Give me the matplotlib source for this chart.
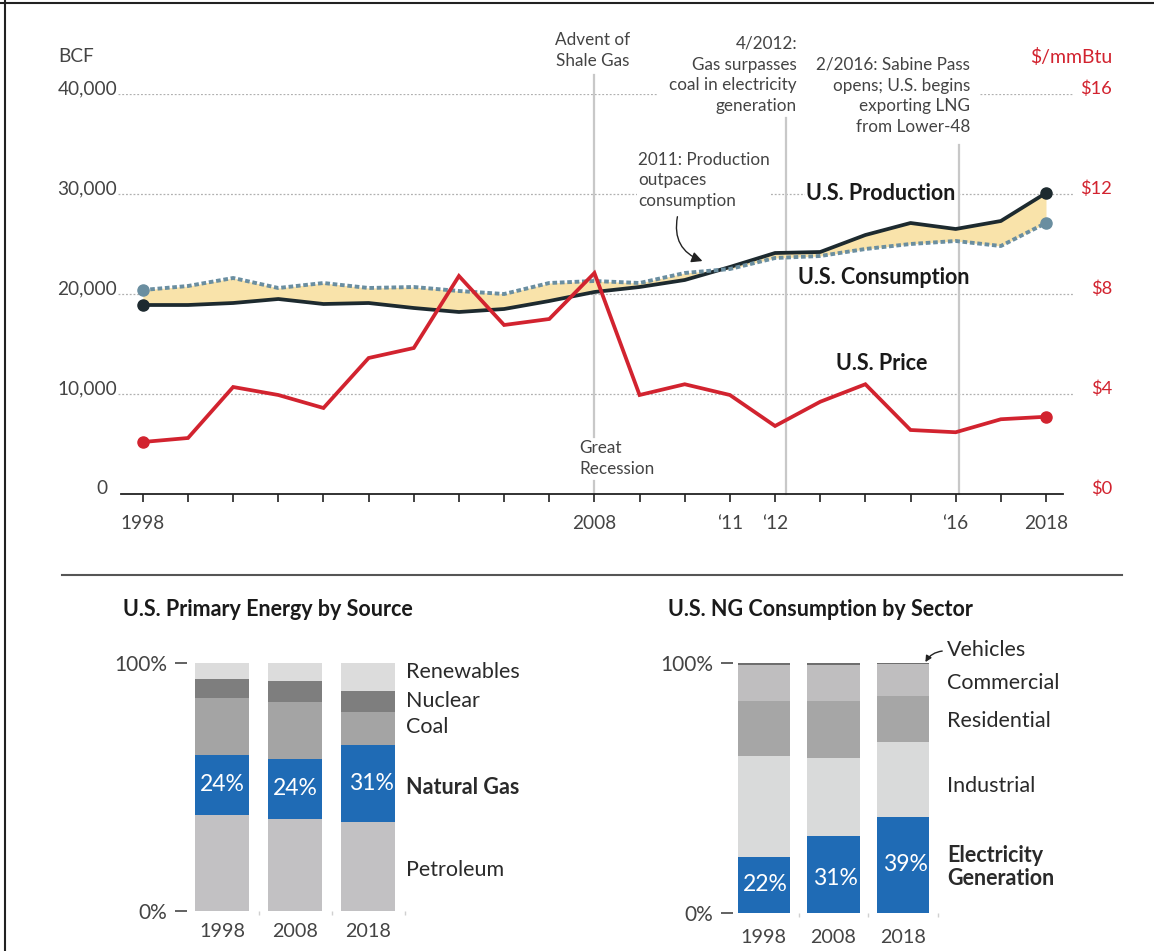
import matplotlib
matplotlib.use('Agg')
import matplotlib.pyplot as plt
from matplotlib.lines import Line2D

plt.rcParams['font.family'] = ['Lato', 'DejaVu Sans']

# dados do painel superior
anos = [1998, 1999, 2000, 2001, 2002, 2003, 2004, 2005, 2006, 2007, 2008,
        2009, 2010, 2011, 2012, 2013, 2014, 2015, 2016, 2017, 2018]
producao = [18900, 18900, 19100, 19500, 19000, 19100, 18600, 18200, 18500, 19300, 20200,
            20700, 21400, 22700, 24100, 24200, 25900, 27100, 26500, 27300, 30100]
consumo = [20400, 20800, 21600, 20600, 21100, 20600, 20700, 20300, 20000, 21100, 21300,
           21100, 22100, 22500, 23600, 23800, 24500, 25000, 25300, 24800, 27100]
preco = [2.08, 2.24, 4.28, 3.96, 3.44, 5.44, 5.84, 8.72, 6.76, 7.00, 8.84,
         3.96, 4.39, 3.96, 2.72, 3.69, 4.39, 2.56, 2.47, 2.99, 3.09]
anos_rotulo = [1998, 2008, 2011, 2012, 2016, 2018]
textos_rotulo = ['1998', '2008', '\u201811', '\u201812', '\u201816', '2018']
bcf_ticks = [0, 10000, 20000, 30000, 40000]
bcf_labels = ['0', '10,000', '20,000', '30,000', '40,000']
preco_labels = ['$0', '$4', '$8', '$12', '$16']

# dados dos paineis inferiores (fração do total)
barras_anos = ['1998', '2008', '2018']
fontes = ['Petroleum', 'Natural Gas', 'Coal', 'Nuclear', 'Renewables']
fontes_vals = {
    'Petroleum':   [0.387, 0.370, 0.360],
    'Natural Gas': [0.243, 0.245, 0.310],
    'Coal':        [0.230, 0.230, 0.132],
    'Nuclear':     [0.078, 0.085, 0.085],
    'Renewables':  [0.062, 0.070, 0.113],
}
fontes_cores = ['#c2c1c3', '#1f6bb5', '#a4a4a4', '#7e7e7e', '#dcdcdc']
gas_pct = ['24%', '24%', '31%']

setores = ['Electricity', 'Industrial', 'Residential', 'Commercial', 'Vehicles']
setores_vals = {
    'Electricity': [0.225, 0.309, 0.385],
    'Industrial':  [0.402, 0.312, 0.301],
    'Residential': [0.222, 0.227, 0.183],
    'Commercial':  [0.146, 0.146, 0.127],
    'Vehicles':    [0.005, 0.006, 0.004],
}
setores_cores = ['#1f6bb5', '#d9dada', '#a6a6a6', '#bfbebf', '#6e6e6e']
elec_pct = ['22%', '31%', '39%']

W, H = 1154, 951
fig = plt.figure(figsize=(W / 100, H / 100), dpi=100)


def px(x, y):
    return x / W, 1 - y / H


CINZA = '#444444'
VERM = '#d2232f'
TK = 13.7  # tamanho dos rótulos de eixo

# ---------------- painel superior ----------------
ax = fig.add_axes([118 / W, 1 - 494 / H, (1074 - 118) / W, 400 / H])
ax.set_xlim(1997.45, 2018.62)
ax.set_ylim(0, 40000)
for s in ['top', 'left', 'right']:
    ax.spines[s].set_visible(False)
ax.spines['bottom'].set_bounds(1997.51, 2018.38)
ax.spines['bottom'].set_color('#222222')
ax.spines['bottom'].set_linewidth(1.3)
ax.set_yticks([])
ax.set_xticks(anos)
ax.set_xticklabels([textos_rotulo[anos_rotulo.index(a)] if a in anos_rotulo else '' for a in anos])
ax.tick_params(axis='x', length=6, width=1.2, color='#222222', labelsize=TK,
               labelcolor=CINZA, pad=9)

# grade pontilhada
for v in bcf_ticks[1:4]:
    ax.axhline(v, color='#b0b0b0', lw=0.9, ls=(0, (1.5, 1.5)), zorder=0)
ax.plot([1997.45, 2009.38], [40000, 40000], color='#b0b0b0', lw=0.9, ls=(0, (1.5, 1.5)), zorder=0)
ax.plot([2016.54, 2018.62], [40000, 40000], color='#b0b0b0', lw=0.9, ls=(0, (1.5, 1.5)), zorder=0)

tr = ax.get_yaxis_transform()
for v, lab in zip(bcf_ticks, bcf_labels):
    xx = -0.011 if v == 0 else -0.001
    ax.text(xx, v, lab, transform=tr, ha='right', va='baseline', fontsize=TK, color=CINZA)
    ax.text(1.0397, v, preco_labels[bcf_ticks.index(v)], transform=tr, ha='right',
            va='baseline', fontsize=13.2, color=VERM)
fig.text(*px(58, 57), 'BCF', ha='left', va='center', fontsize=TK, color=CINZA)
fig.text(*px(1112, 57), '$/mmBtu', ha='right', va='center', fontsize=14, color=VERM)

# linhas verticais de eventos
vcor = '#c8c8c8'
ax.plot([2008, 2008], [5700, 41900], color=vcor, lw=1.6, clip_on=False, zorder=1)
ax.plot([2008, 2008], [0, 1300], color=vcor, lw=1.6, clip_on=False, zorder=1)
ax.plot([2012.25, 2012.25], [0, 37600], color=vcor, lw=1.6, clip_on=False, zorder=1)
ax.plot([2016.08, 2016.08], [0, 34900], color=vcor, lw=1.6, clip_on=False, zorder=1)

# séries
ax.fill_between(anos, producao, consumo, color='#f9e3aa', lw=0, zorder=2)
ax.plot(anos, producao, color='#1d2a2f', lw=2.7, zorder=3, solid_capstyle='round')
ax.plot(anos, consumo, color='#6a8ea0', lw=2.8, ls=(0, (1.2, 0.7)), zorder=3)
ax.plot([anos[0], anos[-1]], [producao[0], producao[-1]], 'o', color='#1d2a2f', ms=8, zorder=4)
ax.plot([anos[0], anos[-1]], [consumo[0], consumo[-1]], 'o', color='#6a8ea0', ms=8, zorder=4)

ax2 = ax.twinx()
ax2.set_ylim(0, 16)
ax2.axis('off')
ax2.plot(anos, preco, color=VERM, lw=2.7, zorder=5, solid_joinstyle='miter')
ax2.plot([anos[0], anos[-1]], [preco[0], preco[-1]], 'o', color=VERM, ms=8, zorder=5)

# anotações
akw = dict(fontsize=12.3, color=CINZA, linespacing=1.36)
fig.text(*px(593, 69), 'Advent of\nShale Gas', ha='center', va='bottom', **akw)
fig.text(*px(797, 114), '4/2012:\nGas surpasses\ncoal in electricity\ngeneration',
         ha='right', va='bottom', multialignment='right', **akw)
fig.text(*px(970, 135), '2/2016: Sabine Pass\nopens; U.S. begins\nexporting LNG\nfrom Lower-48',
         ha='right', va='bottom', multialignment='right', **akw)
fig.text(*px(638, 209), '2011: Production\noutpaces\nconsumption', ha='left', va='bottom',
         bbox=dict(facecolor='white', edgecolor='none', pad=1), **akw)
fig.text(*px(579, 477), 'Great\nRecession', ha='left', va='bottom', **akw)

ax.annotate('', xy=(2010.45, 23200), xytext=(2009.85, 28000),
            arrowprops=dict(arrowstyle='-|>', color='#222222', lw=1.0,
                            connectionstyle='arc3,rad=0.45', mutation_scale=16))

bkw = dict(fontsize=15.5, fontweight='bold', color='#1a1a1a')
fig.text(*px(806, 193), 'U.S. Production', ha='left', va='center',
         bbox=dict(facecolor='white', edgecolor='none', pad=1), **bkw)
fig.text(*px(798, 277), 'U.S. Consumption', ha='left', va='center', **bkw)
fig.text(*px(836, 363), 'U.S. Price', ha='left', va='center', **bkw)

# separador e moldura
fig.add_artist(Line2D([62 / W, 1122 / W], [1 - 575 / H] * 2, color='#555555', lw=1.5))
fig.add_artist(Line2D([0, 1], [1 - 3 / H] * 2, color='#222222', lw=1.5))
fig.add_artist(Line2D([5 / W] * 2, [0, 1], color='#222222', lw=1.5))


# ---------------- painéis inferiores ----------------
def empilhado(rect, xlim, chaves, vals, cores, pad_x):
    a = fig.add_axes(rect)
    a.set_xlim(*xlim)
    a.set_ylim(0, 1)
    x = list(range(len(barras_anos)))
    base = [0] * len(x)
    for k, c in zip(chaves, cores):
        a.bar(x, vals[k], bottom=base, width=0.75, color=c, lw=0)
        base = [b + v for b, v in zip(base, vals[k])]
    for s in a.spines.values():
        s.set_visible(False)
    a.set_yticks([0, 1])
    a.set_yticklabels(['0%', '100%'])
    a.tick_params(axis='y', length=9, width=1.3, color='#555555', labelsize=15,
                  labelcolor=CINZA, pad=5)
    a.set_xticks(x)
    a.set_xticklabels(barras_anos)
    a.tick_params(axis='x', length=0, labelsize=14.2, labelcolor=CINZA, pad=pad_x)
    a.set_xticks([0.5, 1.5, 2.5], minor=True)
    a.tick_params(axis='x', which='minor', length=3, width=1, color='#d0d0d0')
    return a


axL = empilhado([187 / W, 1 - 910.7 / H, 221.2 / W, 247.4 / H], (-0.48, 2.55),
                fontes, fontes_vals, fontes_cores, 9)
pet = fontes_vals['Petroleum']
ng = fontes_vals['Natural Gas']
for i, t in enumerate(gas_pct):
    axL.text(i + (0.05 if i == 2 else 0), pet[i] + ng[i] / 2, t, ha='center', va='center',
             color='white', fontsize=16.5)
fig.text(*px(123, 610), 'U.S. Primary Energy by Source', ha='left', va='center',
         fontsize=15.5, fontweight='bold', color='#1a1a1a')
lkw = dict(fontsize=15.5, color='#2a2a2a', ha='left', va='center')
fig.text(*px(406, 672), 'Renewables', **lkw)
fig.text(*px(406, 701), 'Nuclear', **lkw)
fig.text(*px(406, 727), 'Coal', **lkw)
fig.text(*px(406, 788), 'Natural Gas', fontweight='bold', **lkw)
fig.text(*px(406, 870), 'Petroleum', **lkw)

axR = empilhado([733 / W, 1 - 912.7 / H, 205 / W, 249.4 / H], (-0.44, 2.45),
                setores, setores_vals, setores_cores, 12)
el = setores_vals['Electricity']
for i, t in enumerate(elec_pct):
    axR.text(i + 0.03, el[i] * (0.44 if i == 1 else 0.5), t, ha='center', va='center',
             color='white', fontsize=16.5)
fig.text(*px(668, 610), 'U.S. NG Consumption by Sector', ha='left', va='center',
         fontsize=15.5, fontweight='bold', color='#1a1a1a')
fig.text(*px(947, 650), 'Vehicles', **lkw)
fig.text(*px(947, 683), 'Commercial', **lkw)
fig.text(*px(947, 721), 'Residential', **lkw)
fig.text(*px(947, 786), 'Industrial', **lkw)
fig.text(*px(947, 867), 'Electricity\nGeneration', fontweight='bold', linespacing=1.1, **lkw)
axR.annotate('', xy=(2.3, 0.995), xytext=(2.6, 1.05), annotation_clip=False,
             arrowprops=dict(arrowstyle='-|>', color='#222222', lw=1.0,
                             connectionstyle='arc3,rad=0.3', mutation_scale=9))

fig.savefig('out.png', dpi=100)
